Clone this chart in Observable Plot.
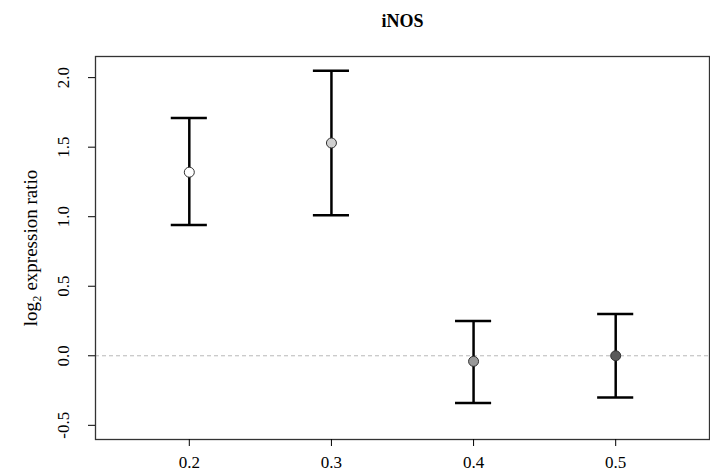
<!DOCTYPE html>
<html>
<head>
<meta charset="utf-8">
<script src="https://cdn.jsdelivr.net/npm/d3@7"></script>
<script src="https://cdn.jsdelivr.net/npm/@observablehq/plot@0.6"></script>
<style>
  body { margin: 0; background: white; }
  #chart svg { display: block; }
</style>
</head>
<body>
<div id="chart"></div>
<script>
const ratios = [0.2, 0.3, 0.4, 0.5];
const means  = [1.32, 1.53, -0.04, 0.0];
const lower  = [0.94, 1.01, -0.34, -0.30];
const upper  = [1.71, 2.05, 0.25, 0.30];
const xTicks = [0.2, 0.3, 0.4, 0.5];
const yTicks = [-0.5, 0, 0.5, 1.0, 1.5, 2.0];
const title = "iNOS";
const yLabel = "log\u2082 expression ratio";

const data = ratios.map((r, i) => ({ratio: r, mean: means[i], lo: lower[i], hi: upper[i]}));
const capHalf = 0.0127;
const serif = "'Liberation Serif', 'DejaVu Serif', serif";
const fmt = d => d.toFixed(1);

const plot = Plot.plot({
  width: 710,
  height: 474,
  marginLeft: 95,
  marginRight: 1,
  marginTop: 56,
  marginBottom: 35,
  style: { fontFamily: serif, fontSize: "16px", color: "#000", background: "white" },
  x: { domain: [0.134, 0.566], ticks: xTicks, tickFormat: fmt },
  y: { domain: [-0.602, 2.152], ticks: yTicks, tickFormat: fmt },
  color: { domain: ratios, range: ["#ffffff", "#d0d0d0", "#999999", "#5a5a5a"] },
  marks: [
    Plot.ruleY([0], { stroke: "#b8b8b8", strokeDasharray: "4,3", strokeWidth: 1 }),
    Plot.ruleX(data, { x: "ratio", y1: "lo", y2: "hi", stroke: "#000", strokeWidth: 2.5 }),
    Plot.ruleY(data, { y: "lo", x1: d => d.ratio - capHalf, x2: d => d.ratio + capHalf, stroke: "#000", strokeWidth: 2.5 }),
    Plot.ruleY(data, { y: "hi", x1: d => d.ratio - capHalf, x2: d => d.ratio + capHalf, stroke: "#000", strokeWidth: 2.5 }),
    Plot.dot(data, { x: "ratio", y: "mean", r: 5, fill: "ratio", stroke: "#333", strokeWidth: 1 }),
    Plot.frame({ stroke: "#333", strokeWidth: 1.3 }),
    Plot.axisX({ ticks: xTicks, tickFormat: fmt, tickSize: 7, tickPadding: 9, label: null, fontSize: 17 }),
    Plot.axisY({ ticks: yTicks, tickFormat: fmt, tickSize: 7, tickPadding: 20, tickRotate: -90, label: null, fontSize: 17 }),
    Plot.text([yLabel], { frameAnchor: "left", textAnchor: "middle", dx: -65, rotate: -90, fontSize: 19, fill: "#000" }),
    Plot.text([title], { frameAnchor: "top", dy: -42, fontSize: 18, fontWeight: "bold", fill: "#000" })
  ]
});
document.getElementById("chart").appendChild(plot);
</script>
</body>
</html>
